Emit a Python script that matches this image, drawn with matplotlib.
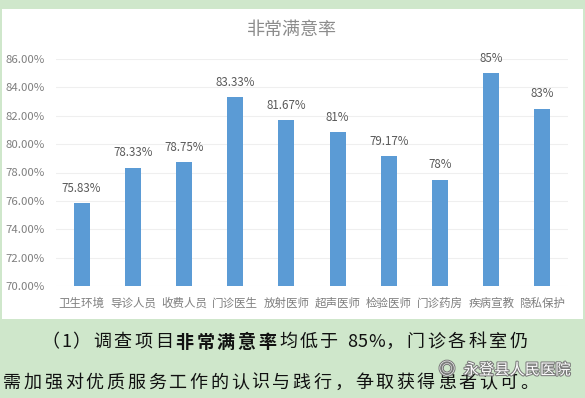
import matplotlib.pyplot as plt
import matplotlib.patheffects as pe
from matplotlib.patches import Rectangle

plt.rcParams['font.family'] = ['Noto Sans CJK SC', 'DejaVu Sans']

categories = ["卫生环境", "导诊人员", "收费人员", "门诊医生", "放射医师",
              "超声医师", "检验医师", "门诊药房", "疾病宣教", "隐私保护"]
values = [75.83, 78.33, 78.75, 83.33, 81.67, 80.83, 79.17, 77.5, 85.0, 82.5]
value_labels = ["75.83%", "78.33%", "78.75%", "83.33%", "81.67%",
                "81%", "79.17%", "78%", "85%", "83%"]
yticks = [70, 72, 74, 76, 78, 80, 82, 84, 86]

line1 = [("（1）调查项目", "normal"), ("非常满意率", "bold"),
         ("均低于 85%，门诊各科室仍", "normal")]
line2 = "需加强对优质服务工作的认识与践行，争取获得患者认可。"

W, H = 585, 398
fig = plt.figure(figsize=(W / 100, H / 100), dpi=100)
fig.patch.set_facecolor("#cfe7cb")

# white chart panel
fig.patches.append(Rectangle((2 / W, 1 - 319 / H), 581 / W, 310 / H,
                             transform=fig.transFigure, facecolor="white",
                             edgecolor="none", zorder=-5))

ax = fig.add_axes([56 / W, 1 - 286 / H, 512 / W, 227 / H])
ax.set_zorder(2)
ax.set_facecolor("none")
x = range(len(categories))
ax.bar(x, values, width=0.31, color="#5b9bd5", zorder=3)
ax.set_xlim(-0.5, len(categories) - 0.5)
ax.set_ylim(70, 86)
ax.set_yticks(yticks)
ax.set_yticklabels([f"{t:.2f}%" for t in yticks], color="#7f7f7f", fontsize=8.2)
ax.set_xticks(list(x))
ax.set_xticklabels(categories, color="#7f7f7f", fontsize=8.3)
ax.tick_params(length=0)
ax.tick_params(axis="x", pad=8)
ax.tick_params(axis="y", pad=8)
ax.grid(axis="y", color="#efefef", linewidth=0.8, zorder=0)
for s in ax.spines.values():
    s.set_visible(False)

for i, (v, lab) in enumerate(zip(values, value_labels)):
    ax.annotate(lab, (i, v), xytext=(0, 6), textcoords="offset points",
                ha="center", va="bottom", fontsize=8.3, color="#595959")

fig.text(292 / W, 1 - 30 / H, "非常满意率", ha="center", va="center",
         fontsize=13, color="#8c8c8c", weight="light")

# paragraph text, spaced like the original
step = 20.7
def put_line(parts, x0, y):
    xp = x0
    for txt, weight in parts:
        for ch in txt:
            fig.text(xp / W, 1 - y / H, ch, ha="left", va="center",
                     fontsize=13, color="#111111", weight=weight)
            if ch == " ":
                xp += step * 0.3
            elif ch == "%":
                xp += step * 0.85
            elif ord(ch) < 128:
                xp += step * 0.5
            else:
                xp += step

put_line(line1, 41, 342)
put_line([(line2, "normal")], 3, 383)

fig.text(517 / W, 1 - 370 / H, "永登县人民医院", ha="center", va="center",
         fontsize=11, color="white",
         path_effects=[pe.withStroke(linewidth=1.5, foreground="#7a7a7a")])
fig.text(447 / W, 1 - 370 / H, "◎", ha="center", va="center",
         fontsize=12, color="white",
         path_effects=[pe.withStroke(linewidth=1.5, foreground="#7a7a7a")])

fig.savefig("out.png", dpi=100, facecolor=fig.get_facecolor())
